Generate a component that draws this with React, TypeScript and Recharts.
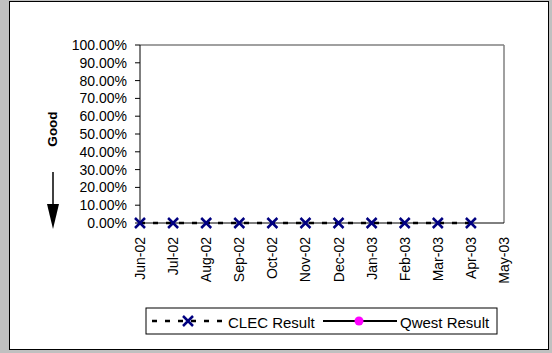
import { LineChart, Line, XAxis, YAxis, ReferenceLine } from 'recharts';

const months = ['Jun-02', 'Jul-02', 'Aug-02', 'Sep-02', 'Oct-02', 'Nov-02', 'Dec-02', 'Jan-03', 'Feb-03', 'Mar-03', 'Apr-03', 'May-03'];
const clecResult = [0, 0, 0, 0, 0, 0, 0, 0, 0, 0, 0, null];
const qwestResult = [null, null, null, null, null, null, null, null, null, null, null, null];
const yTicks = [0, 0.1, 0.2, 0.3, 0.4, 0.5, 0.6, 0.7, 0.8, 0.9, 1];
const seriesNames = ['CLEC Result', 'Qwest Result'];

const FONT = 'Arial, "Liberation Sans", sans-serif';

const chartData = months.map((m, i) => ({
    month: m,
    clec: clecResult[i],
    qwest: qwestResult[i],
}));

function XTick(props: any) {
    const { x, y, payload } = props;
    const ty = y + 6;
    return (
        <text x={x} y={ty} transform={`rotate(-90 ${x} ${ty})`} textAnchor="end" dominantBaseline="central"
            fontSize={14} fontFamily={FONT} fill="#000">
            {payload.value}
        </text>
    );
}

function CrossDot(props: any) {
    const { cx, cy, index } = props;
    if (cx == null || cy == null) return <g key={index} />;
    const s = 5;
    return (
        <path key={index} d={`M${cx - s},${cy - s}L${cx + s},${cy + s}M${cx + s},${cy - s}L${cx - s},${cy + s}`}
            stroke="#000080" strokeWidth={2.5} fill="none" />
    );
}

export default function App() {
    return (
        <div style={{ position: 'relative', width: 552, height: 353, background: '#c0c0c0', fontFamily: FONT }}>
            <style>{'body{margin:0}'}</style>
            <div style={{ position: 'absolute', left: 9, top: 1, width: 538, height: 347, background: '#fff', border: '1px solid #000' }} />

            {/* "Good" label with arrow */}
            <svg width={80} height={250} style={{ position: 'absolute', left: 0, top: 0 }}>
                <text x={52} y={129} transform="rotate(-90 52 129)" textAnchor="middle" dominantBaseline="central"
                    fontSize={13.5} fontWeight="bold" fontFamily={FONT} fill="#000">Good</text>
                <line x1={53} y1={172} x2={53} y2={206} stroke="#000" strokeWidth={1.5} />
                <path d="M47,204L59,204L53,229Z" fill="#000" />
            </svg>

            <div style={{ position: 'absolute', left: 0, top: 0 }}>
                <LineChart width={552} height={353} data={chartData} margin={{ top: 45, right: 48, bottom: 100, left: 0 }}>
                    <XAxis dataKey="month" interval={0} tickLine={false} tick={<XTick />} stroke="#000" height={30} />
                    <YAxis domain={[0, 1]} ticks={yTicks} interval={0} width={140} tickSize={5} tickMargin={8}
                        tickFormatter={(v: number) => (v * 100).toFixed(2) + '%'}
                        tick={{ fontSize: 14, fontFamily: FONT, fill: '#000' }} stroke="#000" />
                    <ReferenceLine y={1} stroke="#808080" strokeWidth={1.5} />
                    <ReferenceLine x="May-03" stroke="#808080" strokeWidth={1.5} />
                    <Line dataKey="clec" name={seriesNames[0]} stroke="#000" strokeWidth={2.5} strokeDasharray="5 8"
                        dot={<CrossDot />} isAnimationActive={false} />
                    <Line dataKey="qwest" name={seriesNames[1]} stroke="#000" strokeWidth={2}
                        dot={{ r: 4.5, fill: '#ff00ff', stroke: '#ff00ff' }} isAnimationActive={false} />
                </LineChart>
            </div>

            {/* Legend */}
            <svg width={354} height={28} style={{ position: 'absolute', left: 145, top: 307 }}>
                <rect x={1} y={1} width={351} height={26} fill="#fff" stroke="#000" />
                <line x1={7} y1={14} x2={77} y2={14} stroke="#000" strokeWidth={2.5} strokeDasharray="5 8" />
                <path d="M38,9L48,19M48,9L38,19" stroke="#000080" strokeWidth={2.5} />
                <text x={83} y={15} dominantBaseline="central" fontSize={15} fontFamily={FONT} fill="#000">{seriesNames[0]}</text>
                <line x1={178} y1={14} x2={252} y2={14} stroke="#000" strokeWidth={2} />
                <circle cx={214} cy={14} r={4.5} fill="#ff00ff" />
                <text x={255} y={15} dominantBaseline="central" fontSize={15} fontFamily={FONT} fill="#000">{seriesNames[1]}</text>
            </svg>
        </div>
    );
}
